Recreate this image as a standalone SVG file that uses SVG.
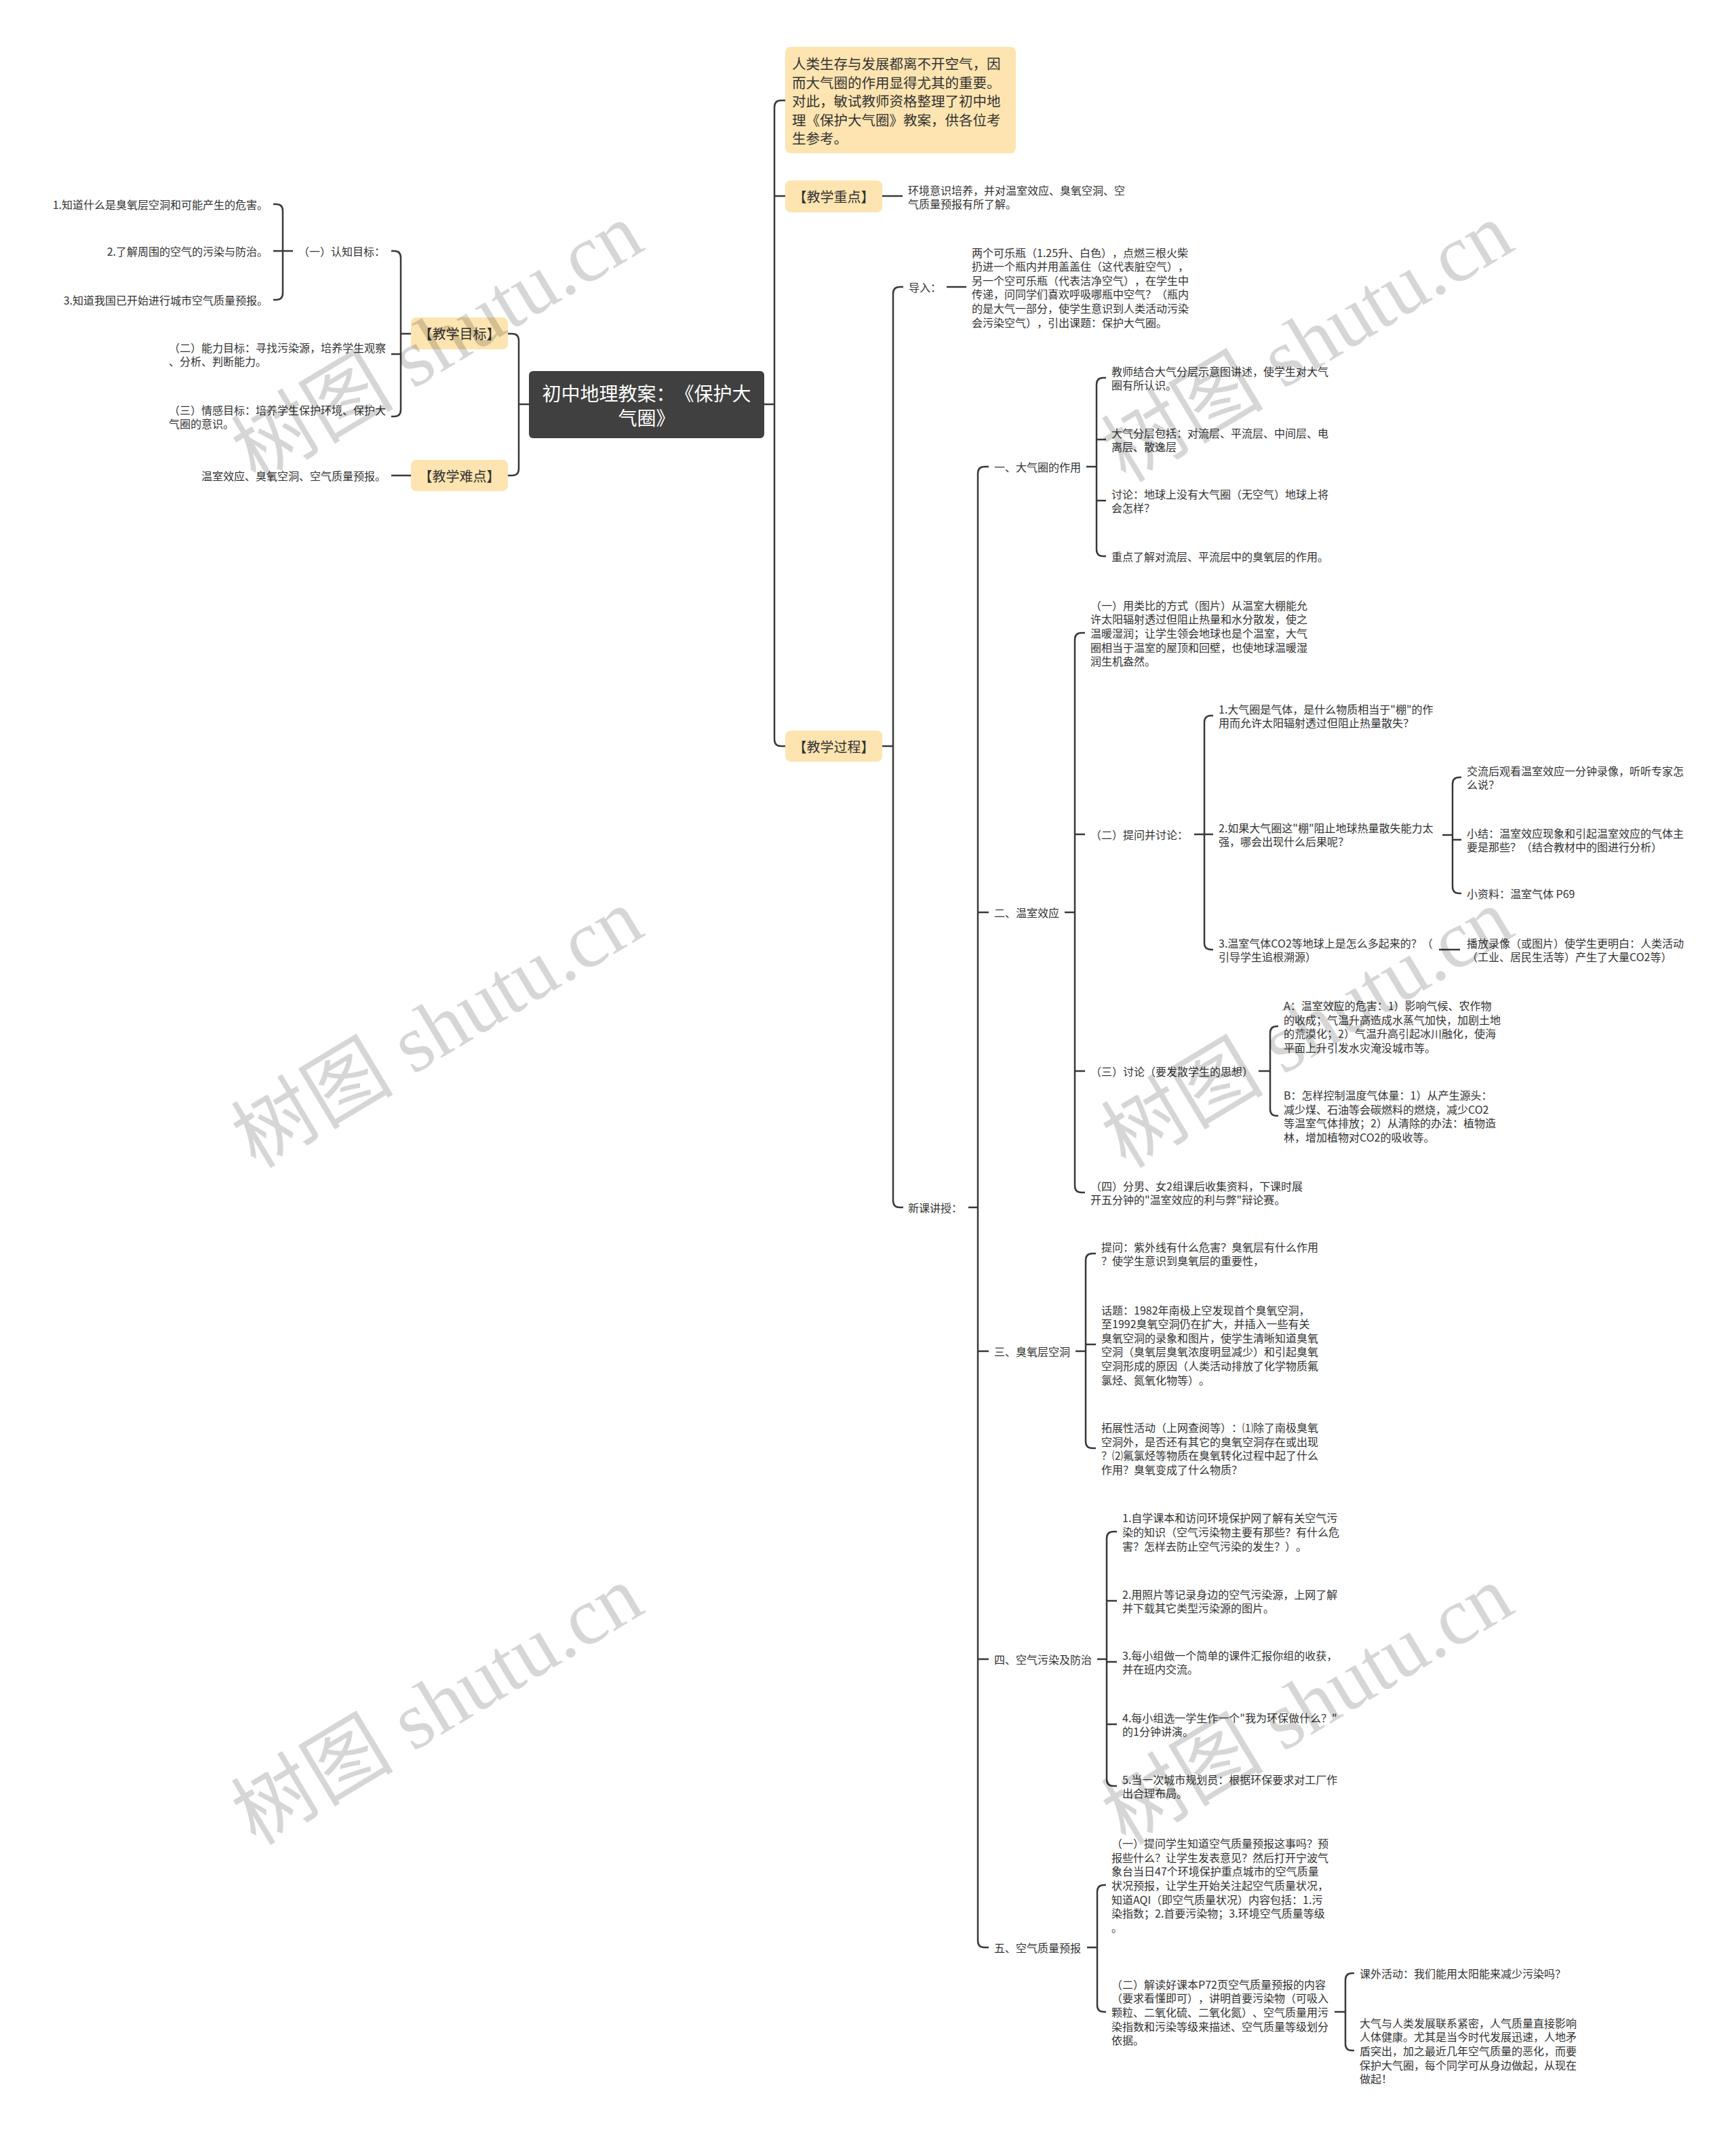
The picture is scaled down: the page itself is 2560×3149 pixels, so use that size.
<svg xmlns="http://www.w3.org/2000/svg" width="2560" height="3149" viewBox="0 0 2560 3149">
<style>
.c{fill:none;stroke:#383838;stroke-width:2.5}
.t{font-family:'Noto Sans CJK SC','Noto Sans',sans-serif;font-size:16px;fill:#333;dominant-baseline:central;text-spacing-trim:space-all}
.b{font-size:20px;text-anchor:middle}
.box{fill:#FDE4B0}
.e{text-anchor:end}
.wm{font-family:'Liberation Serif','Noto Sans CJK SC',serif;font-size:120px;fill:#000;fill-opacity:0.16;text-anchor:middle;dominant-baseline:central}
</style>
<rect width="2560" height="3149" fill="#fff"/>
<g id="connectors" class="c">
<path d="M1127,596 H1142 M1158,148 H1152 Q1142,148 1142,158 V1090 Q1142,1100 1152,1100 H1158 M1142,289 H1158"/>
<path d="M1301,289 H1331"/>
<path d="M1301,1100 H1317 M1332,423 H1327 Q1317,423 1317,433 V1770 Q1317,1780 1327,1780 H1332"/>
<path d="M1396,423 H1425"/>
<path d="M1428,1780 H1442 M1458,688 H1452 Q1442,688 1442,698 V2861 Q1442,2871 1452,2871 H1458 M1442,1345 H1458 M1442,1992 H1458 M1442,2446 H1458"/>
<path d="M1602,688 H1617 M1631,557 H1627 Q1617,557 1617,567 V810 Q1617,820 1627,820 H1631 M1617,648 H1631 M1617,738 H1631"/>
<path d="M1570,1345 H1585 M1600,933 H1595 Q1585,933 1585,943 V1748 Q1585,1758 1595,1758 H1600 M1585,1230 H1600 M1585,1579 H1600"/>
<path d="M1761,1230 H1776 M1789,1055 H1786 Q1776,1055 1776,1065 V1390 Q1776,1400 1786,1400 H1789 M1776,1230 H1789"/>
<path d="M2127,1231 H2142 M2155,1146 H2152 Q2142,1146 2142,1156 V1307 Q2142,1317 2152,1317 H2155 M2142,1238 H2155"/>
<path d="M2122,1400 H2153"/>
<path d="M1856,1579 H1873 M1885,1513 H1883 Q1873,1513 1873,1523 V1635 Q1873,1645 1883,1645 H1885"/>
<path d="M1586,1992 H1601 M1616,1848 H1611 Q1601,1848 1601,1858 V2125 Q1601,2135 1611,2135 H1616 M1601,1982 H1616"/>
<path d="M1618,2446 H1632 M1647,2258 H1642 Q1632,2258 1632,2268 V2623 Q1632,2633 1642,2633 H1647 M1632,2360 H1647 M1632,2450 H1647 M1632,2542 H1647"/>
<path d="M1603,2871 H1618 M1631,2779 H1628 Q1618,2779 1618,2789 V2956 Q1618,2966 1628,2966 H1631"/>
<path d="M1968,2966 H1984 M1997,2909 H1994 Q1984,2909 1984,2919 V3013 Q1984,3023 1994,3023 H1997"/>
<path d="M780,596 H765 M749,492 H755 Q765,492 765,502 V691 Q765,701 755,701 H749"/>
<path d="M606,492 H591 M577,370 H581 Q591,370 591,380 V604 Q591,614 581,614 H577 M591,522 H577"/>
<path d="M432,370 H417 M403,301 H407 Q417,301 417,311 V432 Q417,442 407,442 H403 M417,370 H403"/>
<path d="M606,701 H577"/>
</g>
<g id="root">
<rect x="780" y="547" width="347" height="99" rx="6" fill="#404040"/>
<text class="t" style="font-size:28px;fill:#fff;text-anchor:middle"><tspan x="953.5" y="579">初中地理教案：《保护大</tspan><tspan x="953.5" y="615">气圈》</tspan></text>
</g>
<g id="intro">
<rect class="box" x="1158" y="69" width="340" height="157" rx="8"/>
<text class="t" style="font-size:20.5px"><tspan x="1168" y="93">人类生存与发展都离不开空气，因</tspan><tspan x="1168" y="120.5">而大气圈的作用显得尤其的重要。</tspan><tspan x="1168" y="148">对此，敏试教师资格整理了初中地</tspan><tspan x="1168" y="175.5">理《保护大气圈》教案，供各位考</tspan><tspan x="1168" y="203">生参考。</tspan></text>
</g>
<g id="zhongdian">
<rect class="box" x="1158" y="266" width="143" height="47" rx="8"/>
<text class="t b" x="1229.5" y="289">【教学重点】</text>
</g>
<g id="zhongdian-text">
<text class="t"><tspan x="1339" y="279.7">环境意识培养，并对温室效应、臭氧空洞、空</tspan><tspan x="1339" y="300.3">气质量预报有所了解。</tspan></text>
</g>
<g id="guocheng">
<rect class="box" x="1158" y="1077" width="143" height="46" rx="8"/>
<text class="t b" x="1229.5" y="1100">【教学过程】</text>
</g>
<g id="mubiao">
<rect class="box" x="606" y="468" width="143" height="47" rx="8"/>
<text class="t b" x="677.5" y="491.5">【教学目标】</text>
</g>
<g id="nandian">
<rect class="box" x="606" y="678" width="143" height="46" rx="8"/>
<text class="t b" x="677.5" y="701">【教学难点】</text>
</g>
<g id="nandian-text"><text class="t e" x="569" y="701">温室效应、臭氧空洞、空气质量预报。</text></g>
<g id="renzhi"><text class="t" x="440" y="370">（一）认知目标：</text></g>
<g id="rz1"><text class="t e" x="395" y="301">1.知道什么是臭氧层空洞和可能产生的危害。</text></g>
<g id="rz2"><text class="t e" x="395" y="370">2.了解周围的空气的污染与防治。</text></g>
<g id="rz3"><text class="t e" x="395" y="442">3.知道我国已开始进行城市空气质量预报。</text></g>
<g id="nengli"><text class="t"><tspan x="249" y="511.7">（二）能力目标：寻找污染源，培养学生观察</tspan><tspan x="249" y="532.3">、分析、判断能力。</tspan></text></g>
<g id="qinggan"><text class="t"><tspan x="249" y="603.7">（三）情感目标：培养学生保护环境、保护大</tspan><tspan x="249" y="624.3">气圈的意识。</tspan></text></g>
<g id="daoru"><text class="t" x="1340" y="423">导入：</text></g>
<g id="daoru-text"><text class="t"><tspan x="1433" y="371.5">两个可乐瓶（1.25升、白色），点燃三根火柴</tspan><tspan x="1433" y="392.1">扔进一个瓶内并用盖盖住（这代表脏空气），</tspan><tspan x="1433" y="412.7">另一个空可乐瓶（代表洁净空气），在学生中</tspan><tspan x="1433" y="433.3">传递，问同学们喜欢呼吸哪瓶中空气？（瓶内</tspan><tspan x="1433" y="453.9">的是大气一部分，使学生意识到人类活动污染</tspan><tspan x="1433" y="474.5">会污染空气），引出课题：保护大气圈。</tspan></text></g>
<g id="xinke"><text class="t" x="1339" y="1780">新课讲授：</text></g>
<g id="s1"><text class="t" x="1466" y="688">一、大气圈的作用</text></g>
<g id="s1a"><text class="t"><tspan x="1639" y="546.7">教师结合大气分层示意图讲述，使学生对大气</tspan><tspan x="1639" y="567.3">圈有所认识。</tspan></text></g>
<g id="s1b"><text class="t"><tspan x="1639" y="637.7">大气分层包括：对流层、平流层、中间层、电</tspan><tspan x="1639" y="658.3">离层、散逸层</tspan></text></g>
<g id="s1c"><text class="t"><tspan x="1639" y="727.7">讨论：地球上没有大气圈（无空气）地球上将</tspan><tspan x="1639" y="748.3">会怎样？</tspan></text></g>
<g id="s1d"><text class="t" x="1639" y="820">重点了解对流层、平流层中的臭氧层的作用。</text></g>
<g id="s2"><text class="t" x="1466" y="1345">二、温室效应</text></g>
<g id="s2a"><text class="t"><tspan x="1608" y="891.8">（一）用类比的方式（图片）从温室大棚能允</tspan><tspan x="1608" y="912.4">许太阳辐射透过但阻止热量和水分散发，使之</tspan><tspan x="1608" y="933">温暖湿润；让学生领会地球也是个温室，大气</tspan><tspan x="1608" y="953.6">圈相当于温室的屋顶和回壁，也使地球温暖湿</tspan><tspan x="1608" y="974.2">润生机盎然。</tspan></text></g>
<g id="s2b"><text class="t" x="1608" y="1230">（二）提问并讨论：</text></g>
<g id="s2b1"><text class="t"><tspan x="1797" y="1044.7">1.大气圈是气体，是什么物质相当于"棚"的作</tspan><tspan x="1797" y="1065.3">用而允许太阳辐射透过但阻止热量散失？</tspan></text></g>
<g id="s2b2"><text class="t"><tspan x="1797" y="1219.7">2.如果大气圈这"棚"阻止地球热量散失能力太</tspan><tspan x="1797" y="1240.3">强，哪会出现什么后果呢？</tspan></text></g>
<g id="s2b2a"><text class="t"><tspan x="2163" y="1135.7">交流后观看温室效应一分钟录像，听听专家怎</tspan><tspan x="2163" y="1156.3">么说？</tspan></text></g>
<g id="s2b2b"><text class="t"><tspan x="2163" y="1227.7">小结：温室效应现象和引起温室效应的气体主</tspan><tspan x="2163" y="1248.3">要是那些？（结合教材中的图进行分析）</tspan></text></g>
<g id="s2b2c"><text class="t" x="2163" y="1317">小资料：温室气体 P69</text></g>
<g id="s2b3"><text class="t"><tspan x="1797" y="1389.7">3.温室气体CO2等地球上是怎么多起来的？（</tspan><tspan x="1797" y="1410.3">引导学生追根溯源）</tspan></text></g>
<g id="s2b3a"><text class="t"><tspan x="2163" y="1389.7">播放录像（或图片）使学生更明白：人类活动</tspan><tspan x="2163" y="1410.3">（工业、居民生活等）产生了大量CO2等）</tspan></text></g>
<g id="s2c"><text class="t" x="1608" y="1579">（三）讨论（要发散学生的思想）</text></g>
<g id="s2cA"><text class="t"><tspan x="1893" y="1482.1">A：温室效应的危害：1）影响气候、农作物</tspan><tspan x="1893" y="1502.7">的收成；气温升高造成水蒸气加快，加剧土地</tspan><tspan x="1893" y="1523.3">的荒漠化；2）气温升高引起冰川融化，使海</tspan><tspan x="1893" y="1543.9">平面上升引发水灾淹没城市等。</tspan></text></g>
<g id="s2cB"><text class="t"><tspan x="1893" y="1614.1">B：怎样控制温度气体量：1）从产生源头：</tspan><tspan x="1893" y="1634.7">减少煤、石油等会碳燃料的燃烧，减少CO2</tspan><tspan x="1893" y="1655.3">等温室气体排放；2）从清除的办法：植物造</tspan><tspan x="1893" y="1675.9">林，增加植物对CO2的吸收等。</tspan></text></g>
<g id="s2d"><text class="t"><tspan x="1608" y="1747.7">（四）分男、女2组课后收集资料，下课时展</tspan><tspan x="1608" y="1768.3">开五分钟的"温室效应的利与弊"辩论赛。</tspan></text></g>
<g id="s3"><text class="t" x="1466" y="1992">三、臭氧层空洞</text></g>
<g id="s3a"><text class="t"><tspan x="1624" y="1837.7">提问：紫外线有什么危害？臭氧层有什么作用</tspan><tspan x="1624" y="1858.3">？使学生意识到臭氧层的重要性，</tspan></text></g>
<g id="s3b"><text class="t"><tspan x="1624" y="1930.5">话题：1982年南极上空发现首个臭氧空洞，</tspan><tspan x="1624" y="1951.1">至1992臭氧空洞仍在扩大，并插入一些有关</tspan><tspan x="1624" y="1971.7">臭氧空洞的录象和图片，使学生清晰知道臭氧</tspan><tspan x="1624" y="1992.3">空洞（臭氧层臭氧浓度明显减少）和引起臭氧</tspan><tspan x="1624" y="2012.9">空洞形成的原因（人类活动排放了化学物质氟</tspan><tspan x="1624" y="2033.5">氯烃、氮氧化物等）。</tspan></text></g>
<g id="s3c"><text class="t"><tspan x="1624" y="2104.1">拓展性活动（上网查阅等）：⑴除了南极臭氧</tspan><tspan x="1624" y="2124.7">空洞外，是否还有其它的臭氧空洞存在或出现</tspan><tspan x="1624" y="2145.3">？⑵氟氯烃等物质在臭氧转化过程中起了什么</tspan><tspan x="1624" y="2165.9">作用？臭氧变成了什么物质？</tspan></text></g>
<g id="s4"><text class="t" x="1466" y="2446">四、空气污染及防治</text></g>
<g id="s4a"><text class="t"><tspan x="1655" y="2237.4">1.自学课本和访问环境保护网了解有关空气污</tspan><tspan x="1655" y="2258">染的知识（空气污染物主要有那些？有什么危</tspan><tspan x="1655" y="2278.6">害？怎样去防止空气污染的发生？）。</tspan></text></g>
<g id="s4b"><text class="t"><tspan x="1655" y="2349.7">2.用照片等记录身边的空气污染源，上网了解</tspan><tspan x="1655" y="2370.3">并下载其它类型污染源的图片。</tspan></text></g>
<g id="s4c"><text class="t"><tspan x="1655" y="2439.7">3.每小组做一个简单的课件汇报你组的收获，</tspan><tspan x="1655" y="2460.3">并在班内交流。</tspan></text></g>
<g id="s4d"><text class="t"><tspan x="1655" y="2531.7">4.每小组选一学生作一个"我为环保做什么？"</tspan><tspan x="1655" y="2552.3">的1分钟讲演。</tspan></text></g>
<g id="s4e"><text class="t"><tspan x="1655" y="2622.7">5.当一次城市规划员：根据环保要求对工厂作</tspan><tspan x="1655" y="2643.3">出合理布局。</tspan></text></g>
<g id="s5"><text class="t" x="1466" y="2871">五、空气质量预报</text></g>
<g id="s5a"><text class="t"><tspan x="1639" y="2717.2">（一）提问学生知道空气质量预报这事吗？预</tspan><tspan x="1639" y="2737.8">报些什么？让学生发表意见？然后打开宁波气</tspan><tspan x="1639" y="2758.4">象台当日47个环境保护重点城市的空气质量</tspan><tspan x="1639" y="2779">状况预报，让学生开始关注起空气质量状况，</tspan><tspan x="1639" y="2799.6">知道AQI（即空气质量状况）内容包括：1.污</tspan><tspan x="1639" y="2820.2">染指数；2.首要污染物；3.环境空气质量等级</tspan><tspan x="1639" y="2840.8">。</tspan></text></g>
<g id="s5b"><text class="t"><tspan x="1639" y="2924.8">（二）解读好课本P72页空气质量预报的内容</tspan><tspan x="1639" y="2945.4">（要求看懂即可），讲明首要污染物（可吸入</tspan><tspan x="1639" y="2966">颗粒、二氧化硫、二氧化氮）、空气质量用污</tspan><tspan x="1639" y="2986.6">染指数和污染等级来描述、空气质量等级划分</tspan><tspan x="1639" y="3007.2">依据。</tspan></text></g>
<g id="s5b1"><text class="t" x="2005" y="2909">课外活动：我们能用太阳能来减少污染吗？</text></g>
<g id="s5b2"><text class="t"><tspan x="2005" y="2981.8">大气与人类发展联系紧密，人气质量直接影响</tspan><tspan x="2005" y="3002.4">人体健康。尤其是当今时代发展迅速，人地矛</tspan><tspan x="2005" y="3023">盾突出，加之最近几年空气质量的恶化，而要</tspan><tspan x="2005" y="3043.6">保护大气圈，每个同学可从身边做起，从现在</tspan><tspan x="2005" y="3064.2">做起！</tspan></text></g>
<g id="watermarks">
<text class="wm" transform="translate(645,505) rotate(-31)">树图 shutu.cn</text>
<text class="wm" transform="translate(1928,505) rotate(-31)">树图 shutu.cn</text>
<text class="wm" transform="translate(645,1516) rotate(-31)">树图 shutu.cn</text>
<text class="wm" transform="translate(1928,1516) rotate(-31)">树图 shutu.cn</text>
<text class="wm" transform="translate(645,2514) rotate(-31)">树图 shutu.cn</text>
<text class="wm" transform="translate(1928,2514) rotate(-31)">树图 shutu.cn</text>
</g>
</svg>
